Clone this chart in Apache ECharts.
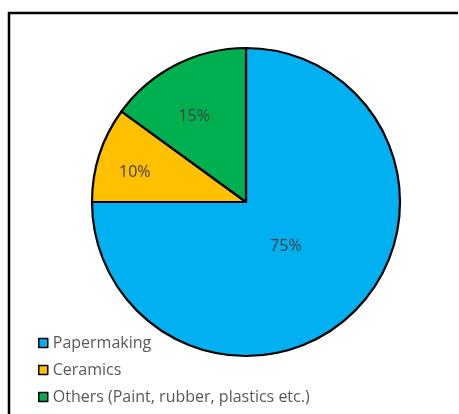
<!DOCTYPE html>
<html><head><meta charset="utf-8">
<script src="https://cdn.jsdelivr.net/npm/echarts@6/dist/echarts.min.js"></script>
<style>html,body{margin:0;padding:0;background:#fff}#c{width:459px;height:414px}</style>
</head><body><div id="c"></div>
<script>
const categories = ['Papermaking', 'Ceramics', 'Others (Paint, rubber, plastics etc.)'];
const values = [75, 10, 15];
const colors = ['#00B0F0', '#FFC000', '#00B050'];

const chart = echarts.init(document.getElementById('c'), null, {renderer: 'canvas'});
const font = '"Open Sans", "Noto Sans", sans-serif';
function mk(labelSet) {
  return categories.map((n, i) => ({
    name: n, value: values[i],
    label: {show: labelSet.includes(i)}
  }));
}
const center = [246, 202];
function labelSeries(r, idx, offset) {
  return {
    type: 'pie', center: center, radius: r, startAngle: 90, clockwise: true,
    silent: true, legendHoverLink: false,
    itemStyle: {color: 'rgba(0,0,0,0)', borderWidth: 0},
    label: {position: 'inside', formatter: '{c}%', fontFamily: font, fontSize: 16,
            color: '#404040', offset: offset, align: 'center', verticalAlign: 'middle'},
    labelLine: {show: false},
    data: mk(idx)
  };
}
chart.setOption({
  animation: false,
  color: colors,
  graphic: [{
    type: 'polyline', shape: {points: [[9, 414], [9, 13], [458, 13]]},
    style: {stroke: '#000', lineWidth: 2.5, fill: null}
  }],
  legend: {
    orient: 'vertical', left: 33, top: 330,
    itemWidth: 9, itemHeight: 9, itemGap: 11,
    icon: 'rect',
    data: categories,
    itemStyle: {borderColor: '#000', borderWidth: 1.5},
    textStyle: {fontFamily: font, fontSize: 16, color: '#595959'}
  },
  series: [
    {
      type: 'pie', center: center, radius: [0, 154], startAngle: 90, clockwise: true,
      itemStyle: {borderColor: '#000', borderWidth: 2.2},
      label: {show: false}, labelLine: {show: false},
      data: mk([])
    },
    labelSeries([0, 118], [0], [-4, 1]),
    labelSeries([76, 154], [1], [1, 7]),
    labelSeries([42, 154], [2], [-6, 4])
  ]
});
</script></body></html>
